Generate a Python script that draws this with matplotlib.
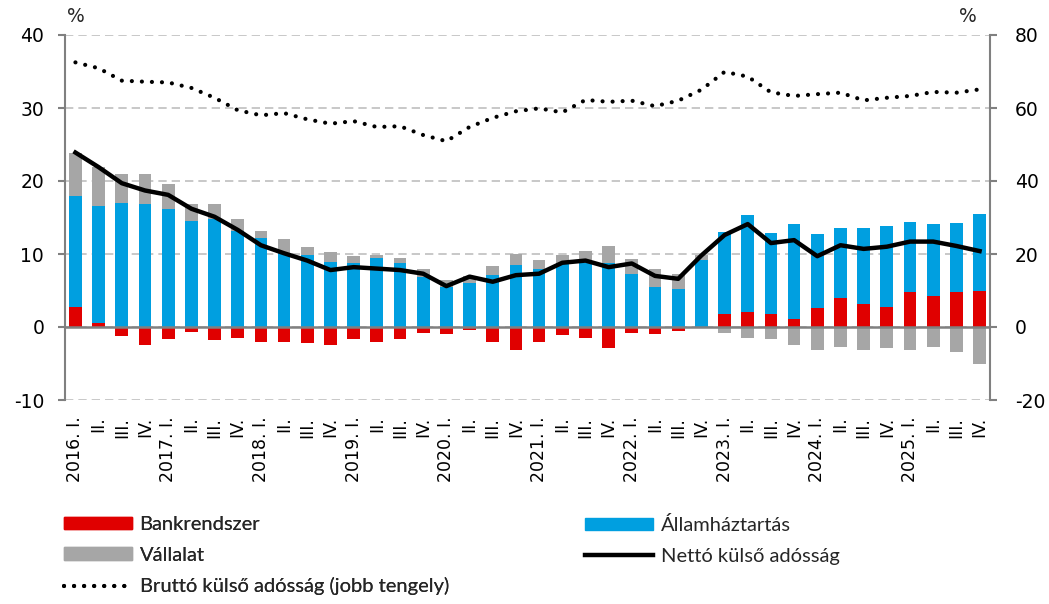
import matplotlib
matplotlib.use("Agg")
from matplotlib import pyplot as plt
from matplotlib.patches import Patch
from matplotlib.lines import Line2D
import numpy as np

# data, % of GDP, 2016 Q1 - 2025 Q4
years = ["2016", "2017", "2018", "2019", "2020", "2021", "2022", "2023", "2024", "2025"]
quarters = ["I.", "II.", "III.", "IV."]

bank = [2.7, 0.6, -1.3, -2.5, -1.6, -0.7, -1.8, -1.5, -2.0, -2.0,
        -2.2, -2.5, -1.6, -2.0, -1.6, -0.8, -0.9, -0.4, -2.1, -3.1,
        -2.0, -1.1, -1.5, -2.9, -0.8, -1.0, -0.6, 0.0, 1.8, 2.0,
        1.8, 1.1, 2.6, 4.0, 3.2, 2.7, 4.8, 4.3, 4.8, 5.0]
gov = [15.3, 16.0, 17.0, 16.8, 16.1, 14.5, 14.8, 13.2, 12.2, 10.1,
       9.8, 8.9, 8.8, 9.5, 8.7, 6.8, 5.5, 6.0, 7.1, 8.5,
       8.0, 8.8, 8.8, 8.8, 7.3, 5.5, 5.2, 9.2, 11.2, 13.4,
       11.1, 13.0, 10.1, 9.6, 10.4, 11.1, 9.6, 9.8, 9.5, 10.5]
corp = [5.9, 5.3, 3.9, 4.1, 3.5, 2.4, 2.1, 1.6, 1.0, 1.9,
        1.2, 1.4, 0.9, 0.3, 0.7, 1.2, 0.9, 1.0, 1.2, 1.5,
        1.2, 1.0, 1.6, 2.3, 2.0, 2.5, 2.0, 0.6, -0.8, -1.5,
        -1.7, -2.5, -3.2, -2.7, -3.1, -2.9, -3.1, -2.7, -3.4, -5.0]
net = [23.9, 21.9, 19.7, 18.7, 18.1, 16.2, 15.1, 13.3, 11.2, 10.1,
       9.1, 7.8, 8.2, 8.0, 7.8, 7.3, 5.6, 6.9, 6.2, 7.1,
       7.3, 8.8, 9.1, 8.2, 8.7, 7.0, 6.6, 9.8, 12.6, 14.1,
       11.5, 11.9, 9.7, 11.2, 10.7, 11.0, 11.7, 11.7, 11.1, 10.4]
gross = [72.5, 70.9, 67.5, 67.2, 67.0, 65.5, 62.8, 59.4, 58.0, 58.6,
         56.9, 55.7, 56.4, 54.8, 55.0, 52.6, 50.9, 54.8, 57.3, 59.1,
         59.9, 58.8, 62.2, 61.7, 62.0, 60.5, 62.0, 65.0, 69.9, 68.6,
         64.3, 63.3, 63.8, 64.2, 62.1, 62.8, 63.3, 64.4, 64.2, 65.1]

labels = []
for y in years:
    for i, q in enumerate(quarters):
        labels.append(f"{y}. {q}" if i == 0 else q)

RED = "#E00000"
BLUE = "#009FE0"
GREY = "#A6A6A6"
AXC = "#808080"

plt.rcParams["font.family"] = ["DejaVu Sans"]
plt.rcParams["text.color"] = "#262626"
plt.rcParams["axes.unicode_minus"] = False

fig = plt.figure(figsize=(10.49, 6.04), dpi=100)
ax = fig.add_axes([65 / 1049, 1 - 400 / 604, 925 / 1049, 365 / 604])

x = np.arange(len(bank))
w = 0.55
pos_base = np.zeros(len(x))
neg_base = np.zeros(len(x))
for vals, col in [(bank, RED), (gov, BLUE), (corp, GREY)]:
    v = np.array(vals)
    base = np.where(v >= 0, pos_base, neg_base)
    ax.bar(x, v, w, bottom=base, color=col, zorder=3)
    pos_base += np.where(v >= 0, v, 0)
    neg_base += np.where(v < 0, v, 0)

ax.plot(x, net, color="black", lw=3.2, zorder=5, solid_joinstyle="round")

ax.set_xlim(-0.45, len(x) - 0.55)
ax.set_ylim(-10, 40)
ax.set_yticks([-10, 0, 10, 20, 30, 40])
ax.set_xticks(x)
ax.set_xticklabels(labels, rotation=90, fontsize=12.5)
ax.tick_params(axis="x", length=0, pad=12)
ax.tick_params(axis="y", length=5, width=1.5, color=AXC, labelsize=13.5, pad=10)
ax.grid(axis="y", color="#BFBFBF", ls=(0, (5, 3)), lw=1.2, zorder=0)
ax.axhline(0, color=AXC, lw=1.8, zorder=4)
for s in ["top", "bottom", "right"]:
    ax.spines[s].set_visible(False)
ax.spines["left"].set_color(AXC)
ax.spines["left"].set_linewidth(1.5)

ax2 = ax.twinx()
ax2.plot(x, gross, color="black", lw=3.0, ls=(0, (0.01, 2.4)),
         dash_capstyle="round", zorder=6)
ax2.set_ylim(-20, 80)
ax2.set_yticks([-20, 0, 20, 40, 60, 80])
ax2.tick_params(axis="y", length=5, width=1.5, color=AXC, labelsize=13.5, pad=13)
for s in ["top", "bottom", "left"]:
    ax2.spines[s].set_visible(False)
ax2.spines["right"].set_color(AXC)
ax2.spines["right"].set_linewidth(1.5)

fig.text(76 / 1049, 1 - 17 / 604, "%", fontsize=13.5, ha="center", va="center")
fig.text(968 / 1049, 1 - 17 / 604, "%", fontsize=13.5, ha="center", va="center")

# legend
lfont = {"family": ["Lato", "DejaVu Sans"], "size": 14.5}
h_bank = Patch(color=RED)
h_corp = Patch(color=GREY)
h_gross = Line2D([], [], color="black", lw=3.0, ls=(0, (0.01, 2.4)), dash_capstyle="round")
h_gov = Patch(color=BLUE)
h_net = Line2D([], [], color="black", lw=3.2)

leg_kw = dict(loc="upper left", frameon=False, prop=lfont, handlelength=3.4,
              handleheight=0.6, handletextpad=0.35, labelspacing=0.68,
              borderpad=0, borderaxespad=0)
leg1 = fig.legend([h_bank, h_corp, h_gross],
                  ["Bankrendszer", "Vállalat", "Bruttó külső adósság (jobb tengely)"],
                  bbox_to_anchor=(64 / 1049, 1 - 516 / 604), **leg_kw)
leg2 = fig.legend([h_gov, h_net],
                  ["Államháztartás", "Nettó külső adósság"],
                  bbox_to_anchor=(585 / 1049, 1 - 516 / 604), **leg_kw)
fig.add_artist(leg1)

fig.savefig("out.png", dpi=100)
